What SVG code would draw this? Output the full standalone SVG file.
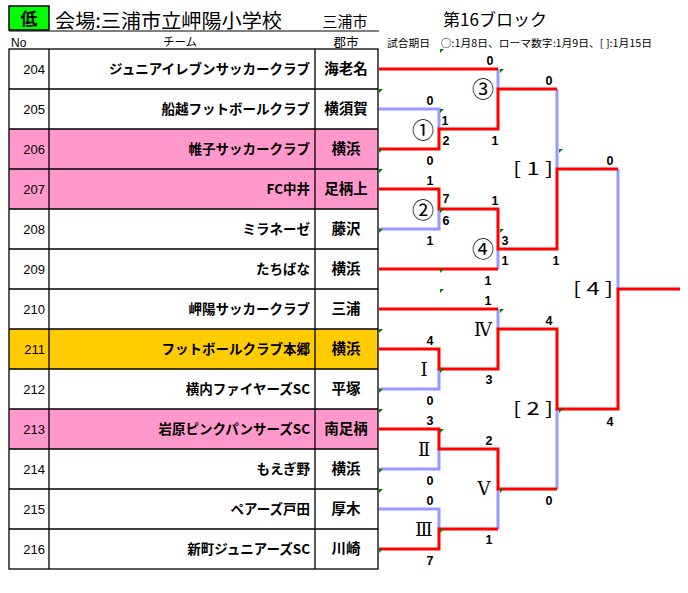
<svg xmlns="http://www.w3.org/2000/svg" width="688" height="593" viewBox="0 0 688 593">
<style>
.cell{stroke:#000;stroke-width:1.3}
.no{font-family:"Liberation Sans",Arial,sans-serif;font-size:13px;text-anchor:end}
.team{font-family:"Noto Sans CJK JP",sans-serif;font-size:13.5px;font-weight:bold;text-anchor:end}
.city{font-family:"Noto Sans CJK JP",sans-serif;font-size:14.5px;font-weight:bold;text-anchor:middle}
.sc{font-family:"Liberation Sans",Arial,sans-serif;font-size:12.5px;font-weight:bold;text-anchor:middle}
.lbl{font-family:"Noto Sans CJK JP",sans-serif;font-size:18px;text-anchor:middle}
.circ{font-family:"Noto Sans CJK JP",sans-serif;font-size:22px;text-anchor:middle}
.rom{font-family:"DejaVu Serif","Noto Sans CJK JP",serif;font-size:18px;text-anchor:middle}
.red{fill:none;stroke:#FF0000;stroke-width:3}
.blue{fill:none;stroke:#9999FF;stroke-width:3}
.tri{fill:#008000}
</style>
<rect width="688" height="593" fill="#FFFFFF"/>
<g id="header">
<rect x="9" y="6" width="40" height="24" fill="#00FF00" stroke="#000" stroke-width="1.5"/>
<text x="29" y="25" font-family="Noto Sans CJK JP,sans-serif" font-size="17" font-weight="bold" text-anchor="middle">低</text>
<text x="55" y="28" font-family="Noto Sans CJK JP,sans-serif" font-size="19.5" textLength="227" lengthAdjust="spacingAndGlyphs">会場:三浦市立岬陽小学校</text>
<text x="345" y="27" font-family="Noto Sans CJK JP,sans-serif" font-size="15" text-anchor="middle">三浦市</text>
<line x1="9" y1="31" x2="379" y2="31" stroke="#000" stroke-width="1"/>
<text x="495" y="26" font-family="Noto Sans CJK JP,sans-serif" font-size="17" text-anchor="middle">第16ブロック</text>
<text x="387" y="47" font-family="Noto Sans CJK JP,sans-serif" font-size="10" textLength="265" lengthAdjust="spacingAndGlyphs">試合期日　○:1月8日、ローマ数字:1月9日、[ ]:1月15日</text>
<text x="11" y="47" font-family="Liberation Sans,Arial,sans-serif" font-size="12">No</text>
<text x="180" y="46" font-family="Noto Sans CJK JP,sans-serif" font-size="11.5" text-anchor="middle">チーム</text>
<text x="346" y="47" font-family="Noto Sans CJK JP,sans-serif" font-size="12.5" text-anchor="middle">郡市</text>
</g>
<g id="table">
<rect x="9" y="129" width="369" height="80" fill="#FF99CC"/>
<rect x="9" y="329" width="369" height="40" fill="#FFCC00"/>
<rect x="9" y="409" width="369" height="40" fill="#FF99CC"/>
<rect class="cell" x="9" y="49" width="369" height="520" fill="none"/>
<path class="cell" d="M49,49V569M315,49V569M9,89H378M9,129H378M9,169H378M9,209H378M9,249H378M9,289H378M9,329H378M9,369H378M9,409H378M9,449H378M9,489H378M9,529H378"/>
</g>
<g id="team-204"><text class="no" x="45" y="74">204</text><text class="team" x="310" y="74">ジュニアイレブンサッカークラブ</text><text class="city" x="346" y="74">海老名</text></g>
<g id="team-205"><text class="no" x="45" y="114">205</text><text class="team" x="310" y="114">船越フットボールクラブ</text><text class="city" x="346" y="114">横須賀</text></g>
<g id="team-206"><text class="no" x="45" y="154">206</text><text class="team" x="310" y="154">帷子サッカークラブ</text><text class="city" x="346" y="154">横浜</text></g>
<g id="team-207"><text class="no" x="45" y="194">207</text><text class="team" x="310" y="194">FC中井</text><text class="city" x="346" y="194">足柄上</text></g>
<g id="team-208"><text class="no" x="45" y="234">208</text><text class="team" x="310" y="234">ミラネーゼ</text><text class="city" x="346" y="234">藤沢</text></g>
<g id="team-209"><text class="no" x="45" y="274">209</text><text class="team" x="310" y="274">たちばな</text><text class="city" x="346" y="274">横浜</text></g>
<g id="team-210"><text class="no" x="45" y="314">210</text><text class="team" x="310" y="314">岬陽サッカークラブ</text><text class="city" x="346" y="314">三浦</text></g>
<g id="team-211"><text class="no" x="45" y="354">211</text><text class="team" x="310" y="354">フットボールクラブ本郷</text><text class="city" x="346" y="354">横浜</text></g>
<g id="team-212"><text class="no" x="45" y="394">212</text><text class="team" x="310" y="394">横内ファイヤーズSC</text><text class="city" x="346" y="394">平塚</text></g>
<g id="team-213"><text class="no" x="45" y="434">213</text><text class="team" x="310" y="434">岩原ピンクパンサーズSC</text><text class="city" x="346" y="434">南足柄</text></g>
<g id="team-214"><text class="no" x="45" y="474">214</text><text class="team" x="310" y="474">もえぎ野</text><text class="city" x="346" y="474">横浜</text></g>
<g id="team-215"><text class="no" x="45" y="514">215</text><text class="team" x="310" y="514">ペアーズ戸田</text><text class="city" x="346" y="514">厚木</text></g>
<g id="team-216"><text class="no" x="45" y="554">216</text><text class="team" x="310" y="554">新町ジュニアーズSC</text><text class="city" x="346" y="554">川崎</text></g>
<g id="connectors">
<path class="blue" d="M379,109H439V129M498,69V89M379,229H439V209M498,249V269M557,89V169M618,169V289M498,309V329M379,389H439V369M379,469H439V449M379,509H439V529M498,489V529M557,409V489"/>
<path class="red" d="M379,69H498M379,149H439V129H498V89H557M379,189H439V209H498V249H557V169H618M379,269H498M379,309H498M379,349H439V369H498V329H557V409H618V289H680M379,429H439V449H498V489H557M379,549H439V529H498"/>
</g>
<g id="markers">
<path class="tri" d="M379,89h4l-4,4zM379,149h4l-4,4zM379,169h4l-4,4zM379,229h4l-4,4zM379,329h4l-4,4zM379,389h4l-4,4zM379,409h4l-4,4zM379,469h4l-4,4zM379,489h4l-4,4zM379,549h4l-4,4zM440,49h4l-4,4zM440,109h4l-4,4zM440,209h4l-4,4zM440,269h4l-4,4zM440,289h4l-4,4zM440,369h4l-4,4zM440,429h4l-4,4zM440,529h4l-4,4zM500,69h4l-4,4zM500,229h4l-4,4zM500,309h4l-4,4zM500,489h4l-4,4zM559,149h4l-4,4zM559,409h4l-4,4z"/>
</g>
<g id="match-1"><text class="circ" x="423" y="138">①</text><text class="sc" x="430" y="105">0</text><text class="sc" x="445" y="125">1</text><text class="sc" x="446" y="145">2</text><text class="sc" x="430" y="165">0</text></g>
<g id="match-2"><text class="circ" x="423" y="218">②</text><text class="sc" x="430" y="185">1</text><text class="sc" x="446" y="203">7</text><text class="sc" x="446" y="225">6</text><text class="sc" x="430" y="245">1</text></g>
<g id="match-3"><text class="circ" x="483" y="97">③</text><text class="sc" x="490" y="65">0</text><text class="sc" x="495" y="145">1</text></g>
<g id="match-4"><text class="circ" x="483" y="257">④</text><text class="sc" x="495" y="205">1</text><text class="sc" x="505" y="245">3</text><text class="sc" x="505" y="265">1</text><text class="sc" x="488" y="285">1</text></g>
<g id="match-b1"><text class="lbl" x="533" y="175" textLength="40" lengthAdjust="spacingAndGlyphs">[ 1 ]</text><text class="sc" x="549" y="85">0</text><text class="sc" x="556" y="265">1</text></g>
<g id="match-r1"><text class="rom" x="424" y="376">Ⅰ</text><text class="sc" x="430" y="345">4</text><text class="sc" x="430" y="405">0</text></g>
<g id="match-r2"><text class="rom" x="424" y="456">Ⅱ</text><text class="sc" x="430" y="425">3</text><text class="sc" x="430" y="485">0</text></g>
<g id="match-r3"><text class="rom" x="424" y="536">Ⅲ</text><text class="sc" x="430" y="505">0</text><text class="sc" x="430" y="565">7</text></g>
<g id="match-r4"><text class="rom" x="483" y="336">Ⅳ</text><text class="sc" x="488" y="305">1</text><text class="sc" x="489" y="384">3</text></g>
<g id="match-r5"><text class="rom" x="484" y="495">Ⅴ</text><text class="sc" x="489" y="445">2</text><text class="sc" x="489" y="544">1</text></g>
<g id="match-b2"><text class="lbl" x="533" y="415" textLength="40" lengthAdjust="spacingAndGlyphs">[ 2 ]</text><text class="sc" x="549" y="325">4</text><text class="sc" x="549" y="505">0</text></g>
<g id="match-b4"><text class="lbl" x="593" y="295" textLength="40" lengthAdjust="spacingAndGlyphs">[ 4 ]</text><text class="sc" x="610" y="165">0</text><text class="sc" x="610" y="426">4</text></g>
</svg>
